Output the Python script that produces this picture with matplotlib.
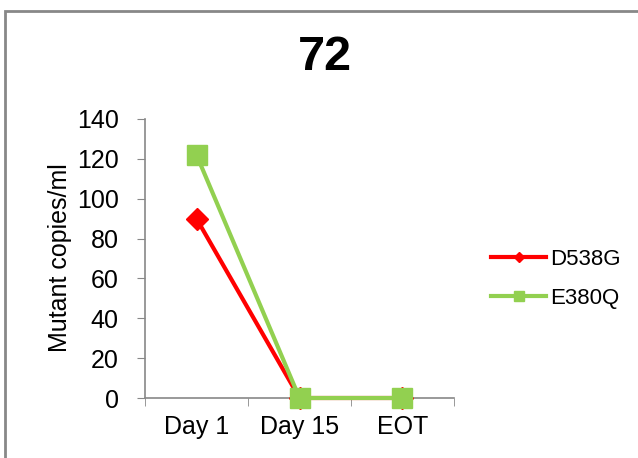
import matplotlib.pyplot as plt
from matplotlib.lines import Line2D
from matplotlib.patches import Rectangle

plt.rcParams['font.family'] = ['Liberation Sans', 'DejaVu Sans']

# data
days = ['Day 1', 'Day 15', 'EOT']
d538g = [90, 0, 0]
e380q = [122, 0, 0]
red = '#FF0000'
green = '#92D050'

fig = plt.figure(figsize=(6.38, 4.58), dpi=100)
ax = fig.add_axes([145/638, 1-398/458, (454-145)/638, (398-119)/458])

x = range(len(days))
ax.plot(x, d538g, color=red, lw=3, marker='D', ms=11, zorder=3, clip_on=False)
ax.plot(x, e380q, color=green, lw=3, marker='s', ms=15, zorder=4, clip_on=False)

ax.set_xlim(-0.5, 2.5)
ax.set_ylim(0, 140)
ax.set_yticks(range(0, 141, 20))
ax.set_xticks(list(x))
ax.set_xticklabels(days)
ax.set_xticks([-0.5, 0.5, 1.5, 2.5], minor=True)
ax.tick_params(axis='x', which='major', length=0, labelsize=18, pad=12)
ax.tick_params(axis='x', which='minor', length=6, color='#888888')
ax.tick_params(axis='y', length=6, color='#888888', labelsize=18, pad=13)
for s in ['top', 'right']:
    ax.spines[s].set_visible(False)
for s in ['left', 'bottom']:
    ax.spines[s].set_color('#888888')
    ax.spines[s].set_linewidth(1.2)
ax.set_ylabel('Mutant copies/ml', fontsize=18)
ax.yaxis.set_label_coords(72/638, 1-258/458, transform=fig.transFigure)

fig.text(325/638, 1-58/458, '72', fontsize=35, fontweight='bold', ha='center', va='center')

handles = [Line2D([], [], color=red, lw=3, marker='D', ms=5),
           Line2D([], [], color=green, lw=3, marker='s', ms=7)]
fig.legend(handles, ['D538G', 'E380Q'], loc='center left',
           bbox_to_anchor=(482/638, 1-279/458), frameon=False, fontsize=16,
           handlelength=2.5, labelspacing=0.8, handletextpad=0.15,
           borderaxespad=0, borderpad=0.4)

fig.patches.append(Rectangle((5/638, -0.1), 1.1, 1.1 - 11/458,
                             transform=fig.transFigure, fill=False,
                             edgecolor='#888888', lw=2))

fig.savefig('out.png', dpi=100)
